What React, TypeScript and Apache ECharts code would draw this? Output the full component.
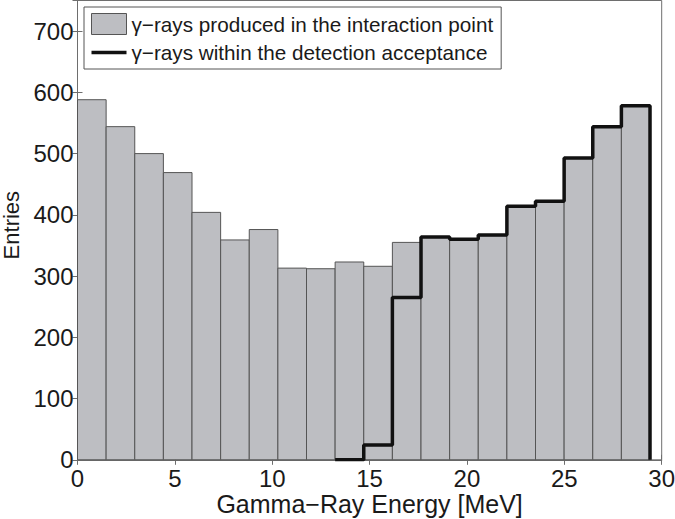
import React, { useEffect, useRef } from "react";
import * as echarts from "echarts";

// Histogram: 20 bins of equal width starting at 0 MeV
const binStart = 0;
const binWidth = 1.47;
const producedCounts = [588, 544, 500, 469, 404, 359, 376, 313, 312, 323, 316, 355, 363, 360, 366, 414, 421, 493, 544, 578];
// acceptance histogram: first bin index drawn, then counts from that bin on
const acceptanceFirstBin = 9;
const acceptanceCounts = [0, 24, 265, 364, 360, 367, 414, 422, 493, 544, 578];

const xTicks = { min: 0, max: 30, interval: 5 };
const yTicks = { min: 0, max: 750, interval: 100 };

const legendProduced = "γ−rays produced in the interaction point";
const legendAccepted = "γ−rays within the detection acceptance";
const xTitle = "Gamma−Ray Energy [MeV]";
const yTitle = "Entries";

const FONT = "'Liberation Sans', Arial, Helvetica, sans-serif";
const TEXT = "#1a1a1a";
const AXIS = "#6e6e6e";

export default function App() {
  const ref = useRef<HTMLDivElement>(null);

  useEffect(() => {
    if (!ref.current) return;
    const chart = echarts.init(ref.current, undefined, { renderer: "svg" });

    const histData = producedCounts.map((v, i) => [
      binStart + i * binWidth,
      binStart + (i + 1) * binWidth,
      v,
    ]);
    const stairData: number[][] = acceptanceCounts.map((v, i) => [
      binStart + (acceptanceFirstBin + i) * binWidth,
      v,
    ]);
    stairData.push([
      binStart + (acceptanceFirstBin + acceptanceCounts.length) * binWidth,
      0,
    ]);

    const commonAxisLine = { show: true, lineStyle: { color: AXIS, width: 1 } };
    const commonTick = { show: true, inside: true, length: 5, lineStyle: { color: AXIS, width: 1 } };

    chart.setOption({
      animation: false,
      backgroundColor: "#ffffff",
      grid: {
        left: 77.5,
        right: 13.3,
        top: 0.5,
        bottom: 59.2,
        containLabel: false,
        outerBoundsMode: "none",
        show: true,
        borderColor: AXIS,
        borderWidth: 1,
        backgroundColor: "#ffffff",
      },
      legend: {
        orient: "vertical",
        left: 84,
        top: 7,
        itemWidth: 35,
        itemHeight: 21,
        itemGap: 7,
        padding: [6, 8, 6, 7],
        borderColor: "#555",
        borderWidth: 1,
        backgroundColor: "#ffffff",
        selectedMode: false,
        symbolKeepAspect: true,
        textStyle: { fontSize: 20.7, color: TEXT, fontFamily: FONT },
        data: [
          {
            name: legendProduced,
            icon: "rect",
            itemStyle: { color: "#bdbec2", borderColor: "#555", borderWidth: 1 },
          },
          {
            name: legendAccepted,
            icon: "path://M0,0 L35,0 L35,3.5 L0,3.5 Z",
            itemStyle: { color: "#111", borderWidth: 0 },
          },
        ],
      },
      xAxis: [
        {
          type: "value",
          min: xTicks.min,
          max: xTicks.max,
          interval: xTicks.interval,
          position: "bottom",
          axisLine: commonAxisLine,
          axisTick: commonTick,
          splitLine: { show: false },
          axisLabel: { fontSize: 24, color: TEXT, fontFamily: FONT, margin: 7 },
          name: xTitle,
          nameLocation: "middle",
          nameGap: 32,
          nameMoveOverlap: false,
          nameTextStyle: { fontSize: 25, color: TEXT, fontFamily: FONT },
        },
        {
          type: "value",
          min: xTicks.min,
          max: xTicks.max,
          interval: xTicks.interval,
          position: "top",
          axisLine: commonAxisLine,
          axisTick: commonTick,
          splitLine: { show: false },
          axisLabel: { show: false },
        },
      ],
      yAxis: [
        {
          type: "value",
          min: yTicks.min,
          max: yTicks.max,
          interval: yTicks.interval,
          position: "left",
          axisLine: commonAxisLine,
          axisTick: commonTick,
          splitLine: { show: false },
          axisLabel: {
            fontSize: 24,
            color: TEXT,
            fontFamily: FONT,
            margin: 4,
            showMaxLabel: false,
          },
          name: yTitle,
          nameLocation: "middle",
          nameGap: 55,
          nameRotate: 90,
          nameMoveOverlap: false,
          nameTextStyle: { fontSize: 22, color: TEXT, fontFamily: FONT, padding: [0, 0, 0, 10] },
        },
        {
          type: "value",
          min: yTicks.min,
          max: yTicks.max,
          interval: yTicks.interval,
          position: "right",
          axisLine: commonAxisLine,
          axisTick: commonTick,
          splitLine: { show: false },
          axisLabel: { show: false },
        },
      ],
      series: [
        {
          name: legendProduced,
          type: "custom",
          xAxisIndex: 0,
          yAxisIndex: 0,
          encode: { x: [0, 1], y: 2 },
          data: histData,
          itemStyle: { color: "#bdbec2", borderColor: "#555", borderWidth: 1 },
          renderItem: (params: any, api: any) => {
            const x0 = api.value(0);
            const x1 = api.value(1);
            const h = api.value(2);
            const p0 = api.coord([x0, 0]);
            const p1 = api.coord([x1, h]);
            return {
              type: "rect",
              shape: { x: p0[0], y: p1[1], width: p1[0] - p0[0], height: p0[1] - p1[1] },
              style: { fill: "#bdbec2", stroke: "#555", lineWidth: 1 },
            };
          },
          z: 2,
        },
        {
          name: legendAccepted,
          type: "line",
          xAxisIndex: 0,
          yAxisIndex: 0,
          step: "end",
          data: stairData,
          showSymbol: false,
          symbol: "none",
          lineStyle: { color: "#111", width: 3.5 },
          itemStyle: { color: "#111" },
          z: 3,
        },
      ],
    });

    return () => chart.dispose();
  }, []);

  return (
    <div
      ref={ref}
      style={{ position: "fixed", left: 0, top: 0, width: 675, height: 519 }}
    />
  );
}
